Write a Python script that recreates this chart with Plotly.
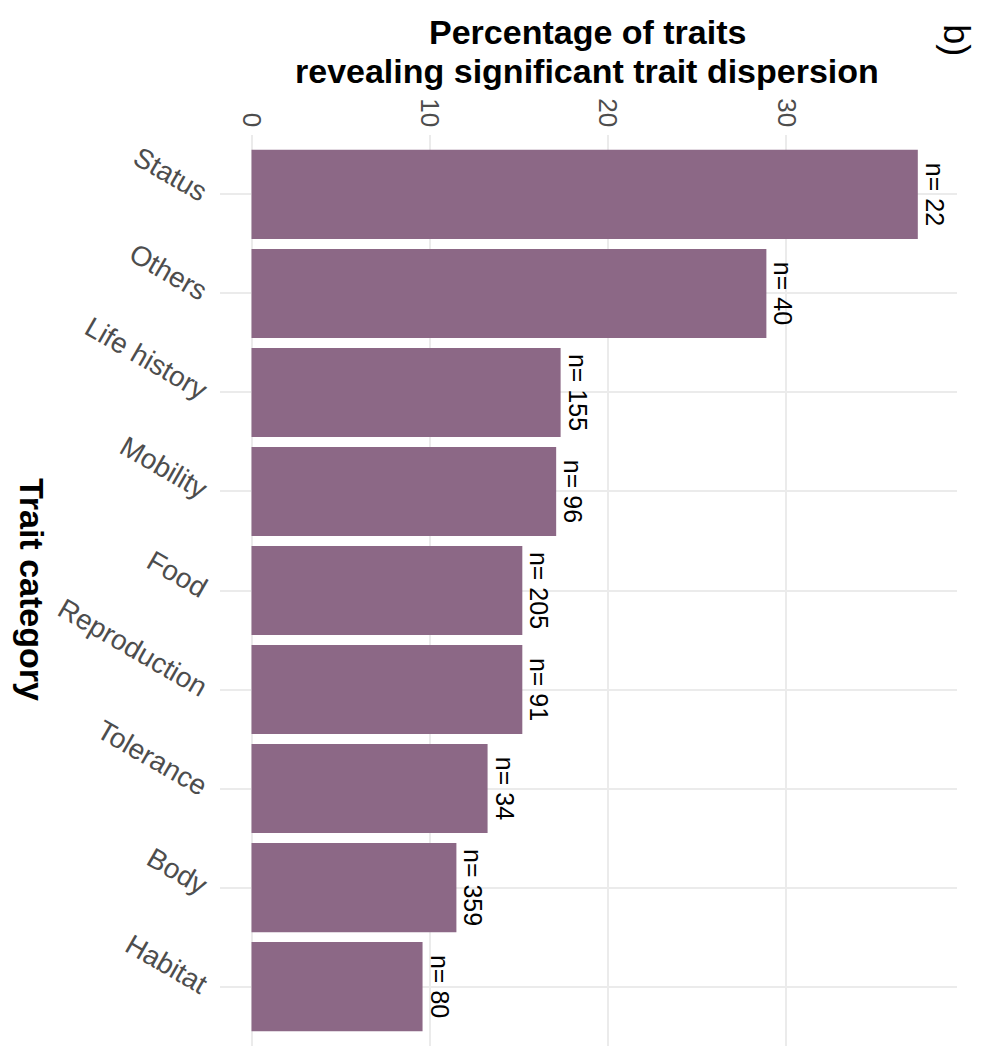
import plotly.graph_objects as go

categories = ["Status", "Others", "Life history", "Mobility", "Food",
              "Reproduction", "Tolerance", "Body", "Habitat"]
percentages = [37.4, 28.9, 17.35, 17.1, 15.2, 15.2, 13.25, 11.5, 9.6]
n_values = [22, 40, 155, 96, 205, 91, 34, 359, 80]
x_ticks = [0, 10, 20, 30]

FONT = "Liberation Sans, Arial, sans-serif"
labels = [f"n= {n}" for n in n_values]

fig = go.Figure()
fig.add_trace(go.Bar(
    x=percentages,
    y=categories,
    orientation="h",
    width=0.9,
    marker=dict(color="#8c6886", line=dict(width=0)),
    text=labels,
    textposition="outside",
    textangle=90,
    constraintext="none",
    cliponaxis=False,
    textfont=dict(family=FONT, size=25, color="#000000"),
    hoverinfo="skip",
))

fig.update_layout(
    width=981,
    height=1046,
    margin=dict(l=220, r=24, t=135, b=0),
    paper_bgcolor="white",
    plot_bgcolor="white",
    showlegend=False,
    font=dict(family=FONT),
    xaxis=dict(
        side="top",
        range=[-1.77, 39.6],
        tickvals=x_ticks,
        ticktext=[str(v) for v in x_ticks],
        tickangle=90,
        tickfont=dict(family=FONT, size=26, color="#4d4d4d"),
        showgrid=True,
        gridcolor="#ebebeb",
        gridwidth=2,
        zeroline=False,
        showline=False,
        ticks="",
        ticklabelstandoff=3,
    ),
    yaxis=dict(
        categoryorder="array",
        categoryarray=categories,
        range=[8.6, -0.6],
        tickangle=30,
        tickfont=dict(family=FONT, size=28, color="#4d4d4d"),
        showgrid=True,
        gridcolor="#ebebeb",
        gridwidth=2,
        zeroline=False,
        showline=False,
        ticks="",
        ticklabelstandoff=12,
    ),
    annotations=[
        dict(text="<b>Percentage of traits</b>",
             xref="paper", yref="paper", x=0.498, y=1.1130,
             xanchor="center", yanchor="middle", showarrow=False,
             font=dict(family=FONT, size=34, color="#000000")),
        dict(text="<b>revealing significant trait dispersion</b>",
             xref="paper", yref="paper", x=0.498, y=1.0703,
             xanchor="center", yanchor="middle", showarrow=False,
             font=dict(family=FONT, size=34, color="#000000")),
        dict(text="<b>Trait category</b>",
             xref="paper", yref="paper", x=-0.255, y=0.5017,
             xanchor="center", yanchor="middle", showarrow=False,
             textangle=90,
             font=dict(family=FONT, size=34, color="#000000")),
        dict(text="b)",
             xref="paper", yref="paper", x=1.0, y=1.104,
             xanchor="center", yanchor="middle", showarrow=False,
             textangle=90,
             font=dict(family=FONT, size=36, color="#000000")),
    ],
)

fig.write_html("out.html")
